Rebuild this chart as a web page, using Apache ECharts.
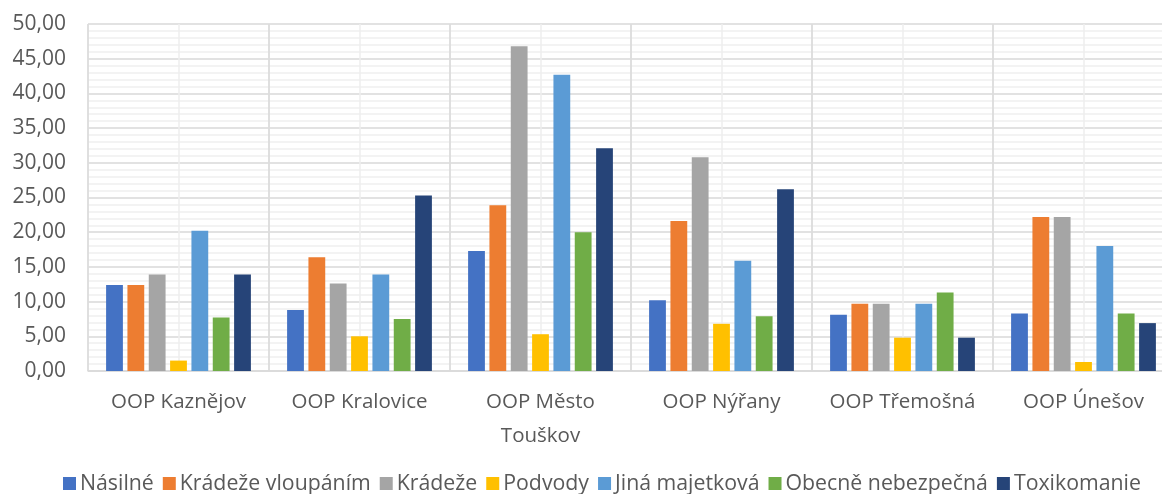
<!DOCTYPE html>
<html>
<head>
<meta charset="utf-8">
<script src="https://cdn.jsdelivr.net/npm/echarts@6/dist/echarts.min.js"></script>
<style>
html,body{margin:0;padding:0;background:#fff;}
#chart{width:1162px;height:494px;}
</style>
</head>
<body>
<div id="chart"></div>
<script>
const categories = ["OOP Kaznějov", "OOP Kralovice", "OOP Město Touškov", "OOP Nýřany", "OOP Třemošná", "OOP Únešov"];
const seriesNames = ["Násilné", "Krádeže vloupáním", "Krádeže", "Podvody", "Jiná majetková", "Obecně nebezpečná", "Toxikomanie"];
const nasilne = [12.4, 8.8, 17.3, 10.2, 8.1, 8.3];
const kradezeVloupanim = [12.4, 16.4, 23.9, 21.6, 9.7, 22.2];
const kradeze = [13.9, 12.6, 46.8, 30.8, 9.7, 22.2];
const podvody = [1.5, 5.0, 5.3, 6.8, 4.8, 1.3];
const jinaMajetkova = [20.2, 13.9, 42.7, 15.9, 9.7, 18.0];
const obecneNebezpecna = [7.7, 7.5, 20.0, 7.9, 11.3, 8.3];
const toxikomanie = [13.9, 25.3, 32.1, 26.2, 4.8, 6.9];
const yTicks = [0, 5, 10, 15, 20, 25, 30, 35, 40, 45, 50];

const colors = ["#4472C4", "#ED7D31", "#A5A5A5", "#FFC000", "#5B9BD5", "#70AD47", "#264478"];
const valuesList = [nasilne, kradezeVloupanim, kradeze, podvody, jinaMajetkova, obecneNebezpecna, toxikomanie];
const FONT = "'Open Sans', sans-serif";

function wrapLabel(v) {
  if (v.length <= 14) return v;
  const i = v.lastIndexOf(' ');
  return v.slice(0, i) + '\n' + v.slice(i + 1);
}

const chart = echarts.init(document.getElementById('chart'), null, {renderer: 'canvas'});
chart.setOption({
  animation: false,
  backgroundColor: '#fff',
  color: colors,
  grid: {left: 88, top: 24, bottom: 123, width: 1086, containLabel: false, outerBoundsMode: 'none'},
  legend: {
    data: seriesNames,
    top: 473,
    left: 63,
    padding: 0,
    icon: 'rect',
    itemWidth: 13,
    itemHeight: 13,
    itemGap: 9,
    textStyle: {fontFamily: FONT, fontSize: 21.3, color: '#595959', padding: [0, 0, 0, -1]}
  },
  xAxis: [{
    type: 'category',
    data: categories,
    z: 2,
    axisLine: {show: true, lineStyle: {color: '#d9d9d9', width: 1.5}},
    axisTick: {show: false},
    splitLine: {show: true, lineStyle: {color: '#d9d9d9', width: 1.5}},
    axisLabel: {fontFamily: FONT, fontSize: 20.5, color: '#595959', margin: 14, lineHeight: 34,
      interval: 0, formatter: wrapLabel}
  }, {
    type: 'value',
    min: 0, max: 12, interval: 1,
    show: true,
    position: 'top',
    z: 1,
    axisLine: {show: false}, axisTick: {show: false}, axisLabel: {show: false},
    splitLine: {show: true, lineStyle: {color: '#eeeeee', width: 1.5}}
  }],
  yAxis: {
    type: 'value',
    min: 0, max: 50, interval: 5,
    axisLine: {show: false},
    axisTick: {show: false},
    axisLabel: {fontFamily: FONT, fontSize: 21, color: '#595959', margin: 22,
      formatter: v => yTicks.includes(v) ? v.toFixed(2).replace('.', ',') : ''},
    splitLine: {show: true, lineStyle: {color: '#d9d9d9', width: 1.5}},
    minorTick: {show: false, splitNumber: 5},
    minorSplitLine: {show: true, lineStyle: {color: '#f0f0f0', width: 1.5}}
  },
  series: seriesNames.map((n, i) => ({
    name: n,
    type: 'bar',
    xAxisIndex: 0,
    data: valuesList[i],
    barGap: '27%',
    barCategoryGap: '20%',
    z: 3
  }))
});
</script>
</body>
</html>
